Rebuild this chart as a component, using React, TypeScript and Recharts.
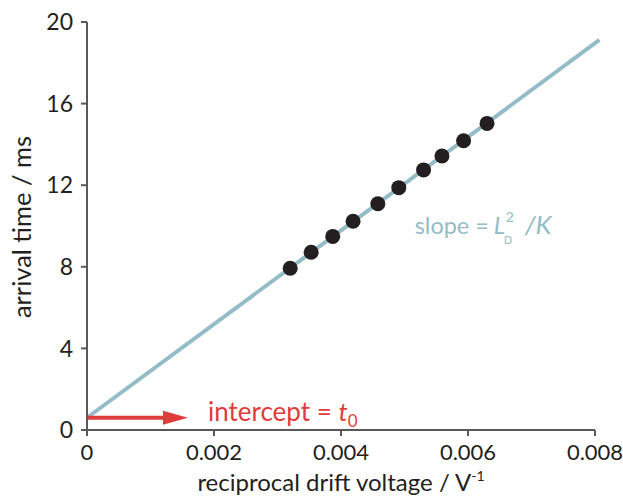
import React from 'react';
import { ComposedChart, Scatter, XAxis, YAxis, ReferenceLine, ReferenceDot } from 'recharts';

// measured points: reciprocal drift voltage (1/V) vs arrival time (ms)
const driftX = [0.0032, 0.00353, 0.00387, 0.00419, 0.00458, 0.00491, 0.0053, 0.00559, 0.00593, 0.0063];
const arrivalY = [7.93, 8.71, 9.49, 10.23, 11.09, 11.88, 12.75, 13.43, 14.18, 15.03];

// fitted line and intercept arrow
const fitX = [0, 0.00807];
const fitY = [0.6, 19.12];
const arrowX = [0, 0.00159];
const arrowY = [0.6, 0.6];
const slopeLabelAt = { x: 0.00516, y: 9.6 };

const xTicks = [0, 0.002, 0.004, 0.006, 0.008];
const yTicks = [0, 4, 8, 12, 16, 20];

const points = driftX.map((x, i) => ({ x, y: arrivalY[i] }));

const FONT = 'Lato, "Open Sans", sans-serif';
const AXIS = '#595959';
const BLUE = '#94bcc7';
const RED = '#e03c3c';
const INK = '#231f20';

const Arrow = (props: any) => {
  const { x1, y1, x2, y2 } = props;
  const head = 25;
  return (
    <g>
      <line x1={x1} y1={y1} x2={x2 - head + 2} y2={y2} stroke={RED} strokeWidth={4} />
      <polygon points={`${x2 - head},${y2 - 7} ${x2},${y2} ${x2 - head},${y2 + 7}`} fill={RED} />
      <text x={x2 + 20} y={y2 + 3} fill={RED} fontSize={26} fontFamily={FONT}>
        intercept = <tspan fontStyle="italic">t</tspan>
        <tspan fontSize={17} dy={6}>0</tspan>
      </text>
    </g>
  );
};

const SlopeLabel = (props: any) => {
  const { viewBox } = props;
  const x = viewBox.x;
  const y = viewBox.y;
  return (
    <g fontFamily={FONT} fill={BLUE}>
      <text x={x} y={y} fontSize={23.5}>slope =</text>
      <text x={x + 79} y={y} fontSize={24} fontStyle="italic">L</text>
      <text x={x + 91} y={y - 12} fontSize={14}>2</text>
      <text x={x + 89} y={y + 10} fontSize={11}>D</text>
      <text x={x + 110} y={y} fontSize={26} fontStyle="italic">/K</text>
    </g>
  );
};

const XLabel = (props: any) => {
  const { viewBox } = props;
  const cx = viewBox.x + viewBox.width / 2;
  return (
    <text x={cx} y={viewBox.y + 61} textAnchor="middle" fontSize={24} fontFamily={FONT} fill={INK}>
      reciprocal drift voltage / V
      <tspan fontSize={14} dy={-10}>-1</tspan>
    </text>
  );
};

const YLabel = (props: any) => {
  const { viewBox } = props;
  const cx = viewBox.x + 21;
  const cy = viewBox.y + viewBox.height / 2 + 1;
  return (
    <text x={cx} y={cy} transform={`rotate(-90 ${cx} ${cy})`} textAnchor="middle" dominantBaseline="central" fontSize={25.5} fontFamily={FONT} fill={INK}>
      arrival time / ms
    </text>
  );
};

const Dot = (props: any) => <circle cx={props.cx} cy={props.cy} r={7.5} fill={INK} />;

export default function App() {
  return (
    <div style={{ position: 'absolute', left: 0, top: 0, background: '#fff' }}>
      <ComposedChart width={623} height={500} margin={{ top: 22, right: 28, bottom: 0, left: 0 }}>
        <XAxis
          type="number"
          dataKey="x"
          domain={[0, 0.008]}
          ticks={xTicks}
          tickFormatter={(v: number) => (v === 0 ? '0' : v.toFixed(3))}
          stroke={AXIS}
          strokeWidth={2}
          tickSize={6}
          tickMargin={8}
          tick={{ fill: INK, fontSize: 22, fontFamily: FONT }}
          height={70}
          label={<XLabel />}
        />
        <YAxis
          type="number"
          dataKey="y"
          domain={[0, 20]}
          ticks={yTicks}
          stroke={AXIS}
          strokeWidth={2}
          tickSize={6}
          tickMargin={8}
          tick={{ fill: INK, fontSize: 23, fontFamily: FONT }}
          width={87}
          label={<YLabel />}
        />
        <ReferenceLine
          segment={[{ x: fitX[0], y: fitY[0] }, { x: fitX[1], y: fitY[1] }]}
          stroke={BLUE}
          strokeWidth={4}
          ifOverflow="visible"
        />
        <ReferenceLine
          segment={[{ x: arrowX[0], y: arrowY[0] }, { x: arrowX[1], y: arrowY[1] }]}
          ifOverflow="visible"
          shape={<Arrow />}
        />
        <ReferenceDot x={slopeLabelAt.x} y={slopeLabelAt.y} r={0} stroke="none" fill="none" label={<SlopeLabel />} />
        <Scatter data={points} fill={INK} shape={<Dot />} isAnimationActive={false} />
      </ComposedChart>
    </div>
  );
}
